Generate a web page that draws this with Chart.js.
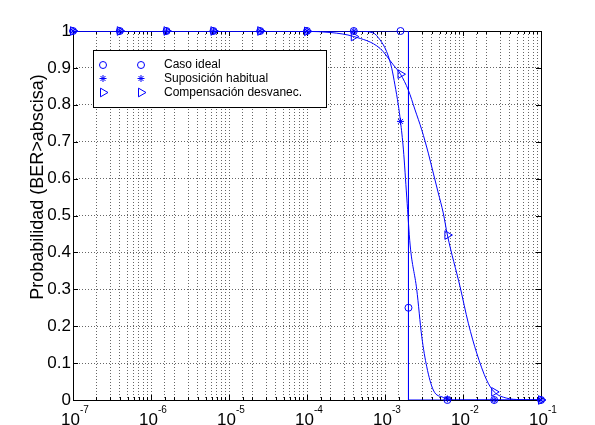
<!DOCTYPE html>
<html>
<head>
<meta charset="utf-8">
<script src="https://cdn.jsdelivr.net/npm/chart.js@4/dist/chart.umd.min.js"></script>
<style>
html, body { margin: 0; padding: 0; background: #fff; }
#caja { width: 595px; height: 425px; }
</style>
</head>
<body>
<div id="caja"><canvas id="grafico" width="595" height="425"></canvas></div>
<script>
// probabilidad de que la BER supere la abscisa

// caso ideal: escalon
const idealX = [1e-7, 2e-3, 2e-3, 1e-1];
const idealY = [1, 1, 0, 0];
const idealMarcasX = [1e-7, 3.98e-7, 1.58e-6, 6.31e-6, 2.51e-5, 1e-4, 3.98e-4, 1.58e-3, 2e-3, 6.31e-3, 2.51e-2, 1e-1];
const idealMarcasY = [1, 1, 1, 1, 1, 1, 1, 1, 0.25, 0, 0, 0];

// suposicion habitual
const habitualX = [1e-7, 4.33e-4, 7.02e-4, 8.63e-4, 1.05e-3, 1.22e-3, 1.34e-3, 1.48e-3, 1.58e-3, 1.72e-3, 1.9e-3, 2.1e-3, 2.55e-3, 2.96e-3, 3.43e-3, 4.16e-3, 5.58e-3, 6.31e-3, 7.5e-3, 1e-1];
const habitualY = [1, 1, 0.995, 0.976, 0.944, 0.899, 0.854, 0.80, 0.755, 0.68, 0.55, 0.42, 0.30, 0.172, 0.09, 0.027, 0.007, 0.003, 0, 0];

// compensacion del desvanecimiento
const compX = [1e-7, 2.51e-5, 1e-4, 2e-4, 3.98e-4, 8.63e-4, 1.28e-3, 1.58e-3, 1.99e-3, 2.43e-3, 2.96e-3, 3.59e-3, 4.16e-3, 4.82e-3, 5.58e-3, 6.31e-3, 9.17e-3, 1.17e-2, 1.5e-2, 2.01e-2, 2.51e-2, 3.63e-2, 5.38e-2, 1e-1];
const compY = [1, 1, 0.999, 0.996, 0.985, 0.953, 0.908, 0.883, 0.84, 0.786, 0.732, 0.669, 0.615, 0.561, 0.507, 0.447, 0.307, 0.208, 0.127, 0.054, 0.022, 0.005, 0.001, 0];

// marcadores (cada 0.6 decadas)
const marcasX = [1e-7, 3.98e-7, 1.58e-6, 6.31e-6, 2.51e-5, 1e-4, 3.98e-4, 1.58e-3, 6.31e-3, 2.51e-2, 1e-1];
const habitualMarcasY = [1, 1, 1, 1, 1, 1, 1, 0.755, 0.003, 0, 0];
const compMarcasY = [1, 1, 1, 1, 1, 0.999, 0.985, 0.883, 0.447, 0.022, 0];

// ejes
const xTicks = [1e-7, 1e-6, 1e-5, 1e-4, 1e-3, 1e-2, 1e-1];
const xExponentes = ['-7', '-6', '-5', '-4', '-3', '-2', '-1'];
const yTicks = [0, 0.1, 0.2, 0.3, 0.4, 0.5, 0.6, 0.7, 0.8, 0.9, 1];
const yEtiquetas = ['0', '0.1', '0.2', '0.3', '0.4', '0.5', '0.6', '0.7', '0.8', '0.9', '1'];
const tituloY = 'Probabilidad (BER>abscisa)';
const leyenda = ['Caso ideal', 'Suposición habitual', 'Compensación desvanec.'];

const azul = '#0000ff';
const fuente = '"Liberation Sans", Arial, sans-serif';

function pares(xs, ys) {
    return xs.map((x, i) => ({ x: x, y: ys[i] }))
}

const estilos = [
    { pointStyle: 'circle', radius: 3.5, rotation: 0 },
    { pointStyle: 'star', radius: 3.5, rotation: 0 },
    { pointStyle: 'triangle', radius: 5, rotation: 90 }
]

function linea(xs, ys, suave) {
    return {
        data: pares(xs, ys),
        showLine: true,
        borderColor: azul,
        borderWidth: 1,
        pointRadius: 0,
        cubicInterpolationMode: suave ? 'monotone' : 'default',
        tension: 0
    }
}
function marcas(xs, ys, est) {
    return {
        data: pares(xs, ys),
        showLine: false,
        borderColor: azul,
        backgroundColor: 'rgba(0,0,0,0)',
        borderWidth: 1,
        pointStyle: est.pointStyle,
        pointRadius: est.radius,
        pointRotation: est.rotation,
        clip: false
    }
}

function esMayor(v) {
    let m = v / Math.pow(10, Math.floor(Math.log10(v) + 1e-9));
    return Math.abs(m - 1) < 1e-6
}

function dibujarMarca(ctx, est, x, y) {
    ctx.strokeStyle = azul;
    ctx.fillStyle = 'rgba(0,0,0,0)';
    ctx.lineWidth = 1;
    Chart.helpers.drawPoint(ctx, { pointStyle: est.pointStyle, radius: est.radius, rotation: est.rotation, borderWidth: 1 }, x, y);
}

const marco = {
    id: 'marco',
    beforeDatasetsDraw(chart) {
        const ctx = chart.ctx;
        const a = chart.chartArea;
        const sx = chart.scales.x;
        const sy = chart.scales.y;
        ctx.save();
        ctx.strokeStyle = '#000';
        ctx.lineWidth = 1;
        ctx.beginPath();
        sx.ticks.forEach(t => {
            let px = Math.round(sx.getPixelForValue(t.value)) + 0.5;
            let l = esMayor(t.value) ? 5 : 3;
            ctx.moveTo(px, a.bottom); ctx.lineTo(px, a.bottom - l);
            ctx.moveTo(px, a.top); ctx.lineTo(px, a.top + l);
        });
        yTicks.forEach(v => {
            let py = Math.round(sy.getPixelForValue(v)) + 0.5;
            ctx.moveTo(a.left, py); ctx.lineTo(a.left + 5, py);
            ctx.moveTo(a.right, py); ctx.lineTo(a.right - 5, py);
        });
        ctx.stroke();
        ctx.strokeRect(a.left + 0.5, a.top + 0.5, a.right - a.left, a.bottom - a.top);

        // etiquetas
        ctx.fillStyle = '#000';
        ctx.font = '17px ' + fuente;
        ctx.textAlign = 'right';
        ctx.textBaseline = 'middle';
        yTicks.forEach((v, i) => {
            ctx.fillText(yEtiquetas[i], a.left - 2, sy.getPixelForValue(v));
        });
        ctx.textAlign = 'left';
        ctx.textBaseline = 'alphabetic';
        xTicks.forEach((v, i) => {
            let px = sx.getPixelForValue(v);
            ctx.font = '17px ' + fuente;
            ctx.fillText('10', px - 12, 425);
            ctx.font = '10px ' + fuente;
            ctx.fillText(xExponentes[i], px + 7, 413);
        });
        ctx.font = '18px ' + fuente;
        ctx.translate(38, 187);
        ctx.rotate(-Math.PI / 2);
        ctx.textAlign = 'center';
        ctx.textBaseline = 'middle';
        ctx.fillText(tituloY, 0, 0);
        ctx.restore();
    },
    afterDraw(chart) {
        const ctx = chart.ctx;
        ctx.save();
        ctx.fillStyle = '#fff';
        ctx.fillRect(93.5, 50.5, 233, 57);
        ctx.strokeStyle = '#000';
        ctx.lineWidth = 1;
        ctx.strokeRect(93.5, 50.5, 233, 57);
        const filas = [65, 78.5, 92.5];
        leyenda.forEach((txt, i) => {
            dibujarMarca(ctx, estilos[i], 103, filas[i]);
            dibujarMarca(ctx, estilos[i], 141, filas[i]);
            ctx.fillStyle = '#000';
            ctx.font = '12px ' + fuente;
            ctx.textAlign = 'left';
            ctx.textBaseline = 'middle';
            ctx.fillText(txt, 164, filas[i]);
        });
        ctx.restore();
    }
}

const grafico = new Chart(document.getElementById('grafico'), {
    type: 'scatter',
    data: {
        datasets: [
            linea(idealX, idealY, false),
            linea(habitualX, habitualY, true),
            linea(compX, compY, true),
            marcas(idealMarcasX, idealMarcasY, estilos[0]),
            marcas(marcasX, habitualMarcasY, estilos[1]),
            marcas(marcasX, compMarcasY, estilos[2])
        ]
    },
    options: {
        responsive: false,
        animation: false,
        devicePixelRatio: 1,
        layout: { padding: { top: 31, right: 54, left: 0, bottom: 0 } },
        plugins: { legend: { display: false }, tooltip: { enabled: false } },
        scales: {
            x: {
                type: 'logarithmic',
                min: 1e-7,
                max: 1e-1,
                ticks: { display: false, autoSkip: false },
                grid: { color: 'rgba(0,0,0,0.6)', drawTicks: false },
                border: { display: false, dash: [1, 2] },
                afterFit: s => { s.height = 25 }
            },
            y: {
                type: 'linear',
                min: 0,
                max: 1,
                ticks: { display: false, stepSize: 0.1 },
                grid: { color: 'rgba(0,0,0,0.6)', drawTicks: false },
                border: { display: false, dash: [1, 2] },
                afterFit: s => { s.width = 73 }
            }
        }
    },
    plugins: [marco]
})
</script>
</body>
</html>
